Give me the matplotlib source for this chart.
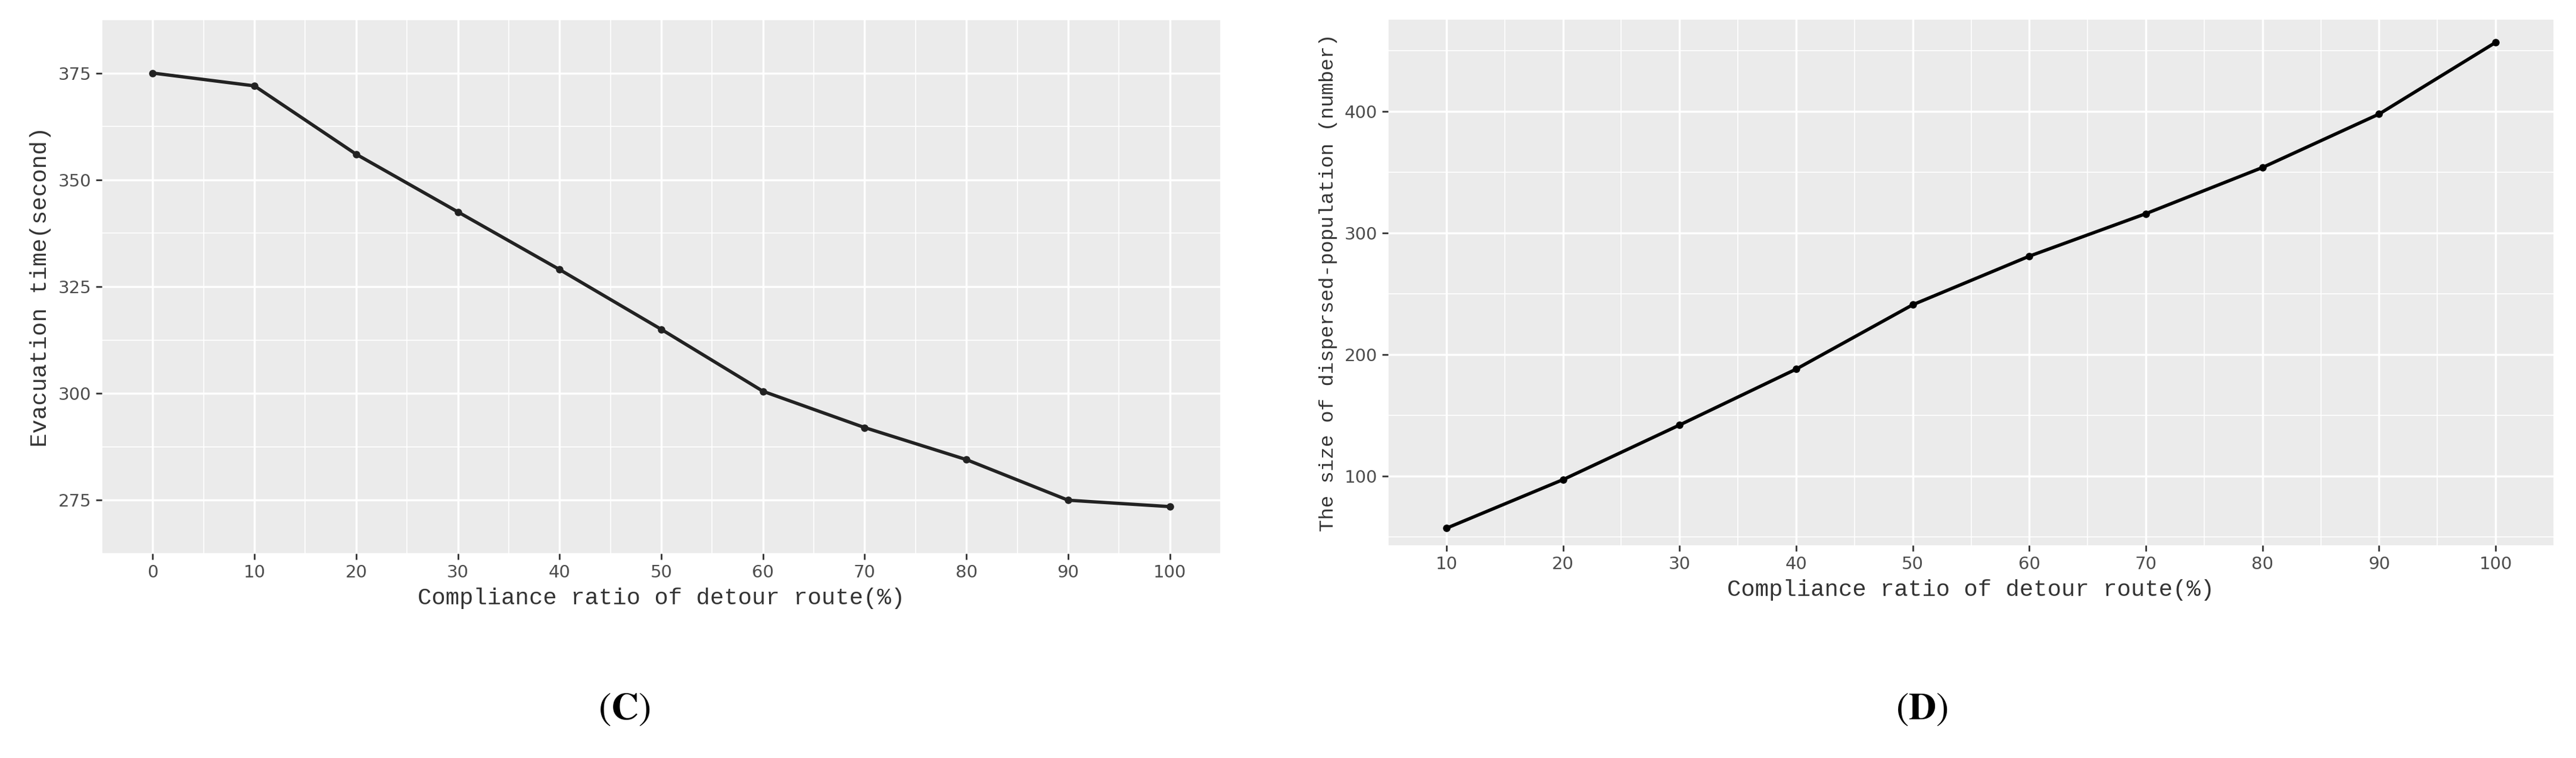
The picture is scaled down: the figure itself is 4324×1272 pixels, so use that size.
import matplotlib
matplotlib.use("Agg")
import matplotlib.pyplot as plt
import numpy as np

x_c = [0, 10, 20, 30, 40, 50, 60, 70, 80, 90, 100]
y_c = [375, 372, 356, 342.5, 329, 315, 300.5, 292, 284.5, 275, 273.5]
x_d = [10, 20, 30, 40, 50, 60, 70, 80, 90, 100]
y_d = [57, 97, 142, 188, 241, 281, 316, 354, 398, 457]
xt_c = [0, 10, 20, 30, 40, 50, 60, 70, 80, 90, 100]
yt_c = [275, 300, 325, 350, 375]
xt_d = [10, 20, 30, 40, 50, 60, 70, 80, 90, 100]
yt_d = [100, 200, 300, 400]

plt.rcParams["mathtext.fontset"] = "stix"
W, H = 4324, 1272
fig = plt.figure(figsize=(W/100, H/100), dpi=100)

def style(ax, xt, yt, xlim, ylim, ylabel, yfs):
    ax.set_facecolor("#EBEBEB")
    for s in ax.spines.values():
        s.set_visible(False)
    ax.set_xlim(*xlim); ax.set_ylim(*ylim)
    ax.set_xticks(xt); ax.set_yticks(yt)
    dx = (xt[1]-xt[0])/2; dy = (yt[1]-yt[0])/2
    ax.set_xticks(np.arange(xt[0]-dx, xt[-1]+dx*1.01, 2*dx), minor=True)
    ax.set_yticks(np.arange(yt[0]-dy, yt[-1]+dy*1.01, 2*dy), minor=True)
    ax.grid(True, which="major", color="white", lw=2.5)
    ax.grid(True, which="minor", color="white", lw=1.2)
    ax.set_axisbelow(True)
    ax.tick_params(which="major", length=7, width=2, color="#333333",
                   labelsize=21, labelcolor="#4D4D4D", pad=6)
    ax.tick_params(which="minor", length=0)
    ax.set_xlabel("Compliance ratio of detour route(%)", family="Liberation Mono",
                  fontsize=28, color="#333333", labelpad=8)
    ax.set_ylabel(ylabel, family="Liberation Mono", fontsize=yfs, color="#333333", labelpad=8)

ax1 = fig.add_axes([171/W, 1-929/H, (2049-171)/W, (929-33)/H])
style(ax1, xt_c, yt_c, (-4.5, 104.1), (268.8, 380.1), "Evacuation time(second)", 28)
ax1.plot(x_c, y_c, color="#222222", lw=4, marker="o", ms=8)

ax2 = fig.add_axes([2330/W, 1-915/H, (4287-2330)/W, (915-33)/H])
style(ax2, xt_d, yt_d, (8.65, 104.4), (43, 475.7), "The size of dispersed-population (number)", 24.5)
ax2.plot(x_d, y_d, color="black", lw=4, marker="o", ms=8)

for xp, lab in [(1048, "C"), (3226, "D")]:
    fig.text(xp/W, 1-1191/H, r"($\mathbf{%s}$)" % lab, fontsize=46,
             family="STIXGeneral", math_fontfamily="stix", ha="center", va="center")

fig.savefig("out.png", dpi=100, facecolor="white")
